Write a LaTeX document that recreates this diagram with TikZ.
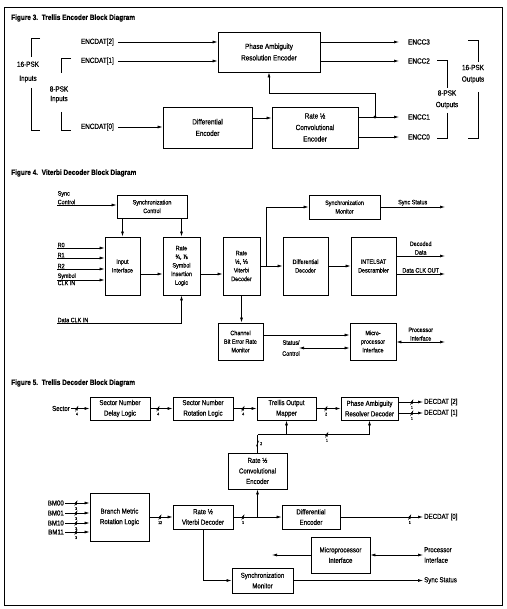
\documentclass[tikz,border=0pt]{standalone}
\usepackage{fontspec}
\setmainfont{Liberation Sans}[FakeStretch=0.85, FakeBold=0.5]
\newfontfamily\djv{DejaVu Sans}[FakeStretch=0.85, FakeBold=0.5]
\usetikzlibrary{arrows.meta,positioning}

\newcommand\figiii{\fontsize{7.5}{11.5}\selectfont}
\newcommand\figiv{\fontsize{6.4}{8.6}\selectfont}
\newcommand\figv{\fontsize{7.2}{10.5}\selectfont}
\newcommand\busfont{\fontsize{4}{4}\selectfont}

\begin{document}
\begin{tikzpicture}[x=1pt, y=-1pt,
    box/.style={draw, line width=0.8pt, align=center, inner sep=1pt},
    txt/.style={inner sep=1pt, align=center},
    wire/.style={line width=0.7pt},
    arrow/.style={-{Latex[length=5pt,width=3pt]}, line width=0.7pt},
    darrow/.style={{Latex[length=5pt,width=3pt]}-{Latex[length=5pt,width=3pt]}, line width=0.7pt},
    title/.style={anchor=west, inner sep=0pt, font=\fontsize{7.6}{8}\selectfont\bfseries},
    bus/.style={inner sep=0pt, minimum width=3pt, minimum height=6pt,
        path picture={\draw[line width=0.5pt] (path picture bounding box.south west) -- (path picture bounding box.north east);},
        label={[inner sep=0.5pt, font=\busfont]#1}}
]
\useasboundingbox (0,0) rectangle (506,609);
\draw[line width=1pt] (4,8) rectangle (502,605);

% Figure 3
\node[title] (t3) at (11,18) {Figure 3.\ \ Trellis Encoder Block Diagram};
\begin{scope}[font=\figiii]
\node[box, minimum width=102pt, minimum height=40pt] (phase) at (269,52) {Phase Ambiguity\\Resolution Encoder};
\node[box, minimum width=89pt, minimum height=41pt] (diffenc) at (207.5,127.5) {Differential\\Encoder};
\node[box, minimum width=86pt, minimum height=41pt] (convenc) at (315,127.5) {Rate ½\\Convolutional\\Encoder};

\node[txt, anchor=east] (encdat2) at (115,42) {ENCDAT[2]};
\node[txt, anchor=east] (encdat1) at (115,61) {ENCDAT[1]};
\node[txt, anchor=east] (encdat0) at (115,127) {ENCDAT[0]};
\node[txt, anchor=west] (encc3) at (407,42) {ENCC3};
\node[txt, anchor=west] (encc2) at (407,61) {ENCC2};
\node[txt, anchor=west] (encc1) at (407,117) {ENCC1};
\node[txt, anchor=west] (encc0) at (407,137) {ENCC0};

\node[txt, font=\fontsize{7.5}{14}\selectfont] (in16) at (28,72) {16-PSK\\Inputs};
\node[txt, font=\fontsize{7.5}{9.5}\selectfont] (in8) at (59,94.5) {8-PSK\\Inputs};
\node[txt] (out8) at (447,99.5) {8-PSK\\Outputs};
\node[txt] (out16) at (473,74) {16-PSK\\Outputs};
\end{scope}

\draw[arrow] ([xshift=3pt]encdat2.east) -- (encdat2 -| phase.west);
\draw[arrow] ([xshift=3pt]encdat1.east) -- (encdat1 -| phase.west);
\draw[arrow] ([xshift=3pt]encdat0.east) -- (encdat0 -| diffenc.west);
\draw[arrow] ([yshift=9.5pt]diffenc.east) -- ([yshift=9.5pt]convenc.west);
\draw[arrow] (phase.east |- encc3) -- ([xshift=-8pt]encc3.west);
\draw[arrow] (phase.east |- encc2) -- ([xshift=-8pt]encc2.west);
\draw[arrow] (convenc.east |- encc1) -- ([xshift=-8pt]encc1.west);
\draw[arrow] (convenc.east |- encc0) -- ([xshift=-8pt]encc0.west);
\node[circle, fill, inner sep=0pt, minimum size=3.2pt] (fbdot) at (375,117) {};
\draw[arrow] (fbdot.center) -- ++(0,-24) -| (phase.south);

\draw[wire] (40,38) -| (31,57) (31,88) |- (40,130);
\draw[wire] (71,58) -| (61,73) (61,112) |- (71,130);
\draw[wire] (437,60) -| (447,88) (447,113) |- (437,138);
\draw[wire] (468,40) -| (478,62) (478,92) |- (468,138);

% Figure 4
\node[title] (t4) at (11,173) {Figure 4.\ \ Viterbi Decoder Block Diagram};
\begin{scope}[font=\figiv]
\node[box, minimum width=70pt, minimum height=23pt] (syncctl) at (152,206.5) {Synchronization\\Control};
\node[box, minimum width=35pt, minimum height=58pt] (inif) at (122.5,266) {Input\\Interface};
\node[box, minimum width=37pt, minimum height=58pt] (symins) at (181.5,266) {Rate\\¾, ⅞\\Symbol\\Insertion\\Logic};
\node[box, minimum width=37pt, minimum height=58pt] (vitdec) at (241.5,266) {Rate\\½, {\djv ⅓}\\Viterbi\\Decoder};
\node[box, minimum width=45pt, minimum height=37pt] (chber) at (240.5,341.5) {Channel\\Bit Error Rate\\Monitor};
\node[box, minimum width=71pt, minimum height=24pt] (syncmon) at (344.5,207) {Synchronization\\Monitor};
\node[box, minimum width=45pt, minimum height=58pt] (diffdec) at (305.5,266) {Differential\\Decoder};
\node[box, minimum width=45pt, minimum height=58pt] (descr) at (373.5,266) {INTELSAT\\Descrambler};
\node[box, minimum width=46pt, minimum height=37pt] (micro) at (373,341.5) {Micro-\\processor\\Interface};

\coordinate (syncin) at (57,205);
\coordinate (r0) at (57,248);
\coordinate (r1) at (57,258);
\coordinate (r2) at (57,269);
\coordinate (sym) at (57,280);
\coordinate (dclk) at (57,323);
\node[txt, anchor=south west, align=left, inner sep=0.5pt] (synclbl) at (syncin) {Sync\\Control};
\node[txt, anchor=south west, inner sep=0.5pt] (r0lbl) at (r0) {R0};
\node[txt, anchor=south west, inner sep=0.5pt] (r1lbl) at (r1) {R1};
\node[txt, anchor=south west, inner sep=0.5pt] (r2lbl) at (r2) {R2};
\node[txt, anchor=south west, inner sep=0.5pt] (symlbl) at (sym) {Symbol};
\node[txt, anchor=north west, inner sep=0.5pt] (clklbl) at (sym) {CLK IN};
\node[txt, anchor=south west, inner sep=0.5pt] (dclklbl) at (dclk) {Data CLK IN};

\draw[arrow] (syncin) -- (syncin -| syncctl.west);
\draw[arrow] (r0) -- (r0 -| inif.west);
\draw[arrow] (r1) -- (r1 -| inif.west);
\draw[arrow] (r2) -- (r2 -| inif.west);
\draw[arrow] (sym) -- (sym -| inif.west);
\draw[arrow] (dclk) -| (symins.south);
\draw[arrow] (inif.north |- syncctl.south) -- (inif.north);
\draw[arrow] (symins.north |- syncctl.south) -- (symins.north);
\draw[arrow] ([yshift=-8pt]inif.east) -- ([yshift=-8pt]symins.west);
\draw[arrow] ([yshift=-8pt]symins.east) -- ([yshift=-8pt]vitdec.west);
\draw[arrow] (vitdec.east) -- (diffdec.west);
\draw[arrow] ([xshift=6pt]vitdec.east) |- (syncmon.west);
\draw[arrow] (diffdec.east) -- (descr.west);
\draw[arrow] (vitdec.south) -- (vitdec.south |- chber.north);

\coordinate (syncst) at (445,207);
\coordinate (ddata) at (445,256);
\coordinate (dclkout) at (445,274);
\coordinate (procif) at (445,342);
\coordinate (stc) at (299,348);
\draw[arrow] (syncmon.east) -- node[txt, above] (syncstlbl) {Sync Status} (syncst);
\draw[arrow] (descr.east |- ddata) -- node[txt, above] (ddatalbl) {Decoded\\Data} (ddata);
\draw[arrow] (descr.east |- dclkout) -- node[txt, above] (dclkoutlbl) {Data CLK OUT} (dclkout);
\draw[arrow] ([yshift=6.5pt]chber.east) -- ([yshift=6.5pt]micro.west);
\draw[darrow] (stc) -- (stc -| micro.west);
\node[txt, anchor=east] (stclbl) at ([xshift=2pt]stc) {Status/\\[2.4pt]Control};
\draw[darrow] (micro.east |- procif) -- node[txt, above] (proclbl) {Processor\\Interface} (procif);
\end{scope}

% Figure 5
\node[title] (t5) at (11,383) {Figure 5.\ \ Trellis Decoder Block Diagram};
\begin{scope}[font=\figv]
\node[box, minimum width=60pt, minimum height=23pt] (sndelay) at (120,408.5) {Sector Number\\Delay Logic};
\node[box, minimum width=60pt, minimum height=23pt] (snrot) at (203,408.5) {Sector Number\\Rotation Logic};
\node[box, minimum width=59pt, minimum height=23pt] (mapper) at (286.5,408.5) {Trellis Output\\Mapper};
\node[box, minimum width=57pt, minimum height=23pt] (phres) at (369.5,408.5) {Phase Ambiguity\\Resolver Decoder};
\node[box, minimum width=59pt, minimum height=36pt] (conv5) at (257.5,471) {Rate ½\\Convolutional\\Encoder};
\node[box, minimum width=59pt, minimum height=48pt] (bmrot) at (119.5,517) {Branch Metric\\Rotation Logic};
\node[box, minimum width=60pt, minimum height=24pt] (vit12) at (203,517) {Rate ½\\Viterbi Decoder};
\node[box, minimum width=58pt, minimum height=24pt] (diffenc5) at (311,517) {Differential\\Encoder};
\node[box, minimum width=61pt, minimum height=25pt] (syncmon5) at (262.5,580.5) {Synchronization\\Monitor};
\node[box, minimum width=59pt, minimum height=36pt] (micro5) at (340.5,555) {Microprocessor\\Interface};

\coordinate (sector) at (71,408.5);
\node[txt, anchor=east] (sectorlbl) at (sector) {Sector};
\node[txt, anchor=west] (decdat2) at (423,402) {DECDAT [2]};
\node[txt, anchor=west] (decdat1) at (423,413) {DECDAT [1]};
\node[txt, anchor=west] (decdat0) at (423,517) {DECDAT [0]};
\node[txt, anchor=west] (syncst5) at (423,580.5) {Sync Status};
\node[txt, anchor=west, align=left] (proc5) at (423,555) {Processor\\Interface};
\coordinate (bm00) at (65,503);
\coordinate (bm01) at (65,513);
\coordinate (bm10) at (65,523);
\coordinate (bm11) at (65,532);
\node[txt, anchor=east] (bm00lbl) at (bm00) {BM00};
\node[txt, anchor=east] (bm01lbl) at (bm01) {BM01};
\node[txt, anchor=east] (bm10lbl) at (bm10) {BM10};
\node[txt, anchor=east] (bm11lbl) at (bm11) {BM11};
\coordinate (mpout) at (272,555);
\end{scope}

\draw[arrow] (sector) -- node[bus=below:4, pos=0.32] (bs1) {} (sndelay.west);
\draw[arrow] (sndelay.east) -- node[bus=below:4, pos=0.35] (bs2) {} (snrot.west);
\draw[arrow] (snrot.east) -- node[bus=below:4, pos=0.42] (bs3) {} (mapper.west);
\draw[arrow] (mapper.east) -- node[bus=below:2, pos=0.4] (bs4) {} (phres.west);
\draw[arrow] (phres.east |- decdat2) -- node[bus=below:1, pos=0.55] (bs5) {} (decdat2.west);
\draw[arrow] (phres.east |- decdat1) -- node[bus=below:1, pos=0.55] (bs6) {} (decdat1.west);
\draw[wire] (conv5.north) -- node[bus=right:2, pos=0.5] (bs7) {} ++(0,-18) coordinate (cj);
\draw[arrow] (cj) -| node[bus=below:1, pos=0.31] (bs8) {} (phres.south);
\draw[arrow] (cj -| mapper.south) -- (mapper.south);

\draw[arrow] (bm00) -- node[bus=below:3, pos=0.45] (bs9) {} (bm00 -| bmrot.west);
\draw[arrow] (bm01) -- node[bus=below:3, pos=0.45] (bs10) {} (bm01 -| bmrot.west);
\draw[arrow] (bm10) -- node[bus=below:3, pos=0.45] (bs11) {} (bm10 -| bmrot.west);
\draw[arrow] (bm11) -- node[bus=below:3, pos=0.45] (bs12) {} (bm11 -| bmrot.west);
\draw[arrow] (bmrot.east) -- node[bus=below:12, pos=0.46] (bs13) {} (vit12.west);
\draw[arrow] (vit12.east) -- node[bus=below:1, pos=0.2] (bs14) {} (diffenc5.west);
\draw[arrow] (vit12.east -| conv5.south) -- (conv5.south);
\draw[arrow] (diffenc5.east) -- node[bus=below:1, pos=0.84] (bs15) {} (decdat0.west);
\draw[arrow] (vit12.south) |- (syncmon5.west);
\draw[arrow] (syncmon5.east) -- (syncst5.west);
\draw[arrow] (micro5.west) -- (mpout);
\draw[darrow] (micro5.east) -- (proc5.west);
\end{tikzpicture}
\end{document}
